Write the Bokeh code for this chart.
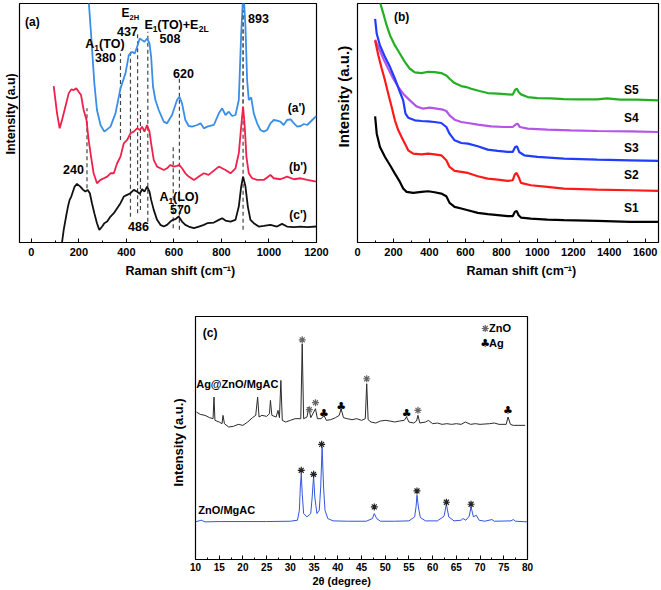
from bokeh.plotting import figure
from bokeh.models import Range1d, SingleIntervalTicker, Title, ColumnDataSource, Spacer
from bokeh.layouts import row, column
from bokeh.core.properties import value
from bokeh.embed import file_html
from bokeh.resources import INLINE

FONT = "Liberation Sans"

# ---------------- data: panel (a) Raman spectra (intensity in a.u.) ----------------
a1_x = [240, 251, 265, 276, 291, 307, 333, 354, 375, 396, 410, 424, 435, 445, 456, 466, 476, 487, 497, 504,
        512, 522, 536, 557, 571, 592, 613, 623, 634, 648, 662, 676, 698, 712, 726, 740, 768, 789, 803, 817,
        831, 845, 859, 873, 883, 890, 894, 901, 908, 915, 925, 936, 950, 964, 978, 992, 1006, 1020, 1034,
        1048, 1062, 1076, 1091, 1105, 1119, 1133, 1147, 1161, 1182, 1200]
a1_y = [740, 629, 479, 399, 354, 334, 349, 389, 464, 509, 564, 574, 569, 589, 614, 609, 604, 614, 599, 559,
        469, 429, 399, 364, 359, 384, 429, 439, 419, 369, 351, 349, 354, 359, 344, 349, 354, 389, 404, 384,
        394, 381, 384, 429, 629, 724, 740, 649, 489, 429, 437, 389, 359, 339, 334, 339, 359, 369, 367,
        364, 354, 369, 371, 359, 349, 351, 357, 354, 369, 381]

a2_x = [94, 108, 119, 129, 143, 157, 168, 178, 189, 199, 209, 220, 232, 241, 251, 262, 276, 291, 305, 319,
        333, 347, 361, 375, 389, 403, 417, 431, 445, 456, 466, 476, 487, 497, 504, 515, 529, 543, 557, 571,
        585, 599, 613, 623, 634, 648, 662, 684, 705, 726, 746, 768, 789, 803, 817, 838, 859, 873, 883, 891,
        898, 905, 915, 929, 950, 978, 1006, 1020, 1048, 1076, 1105, 1133, 1161, 1200]
a2_y = [471, 389, 344, 369, 409, 449, 461, 459, 464, 454, 444, 399, 369, 309, 259, 209, 179, 189, 194, 199,
        209, 209, 239, 259, 299, 309, 329, 334, 344, 339, 349, 334, 354, 334, 299, 249, 229, 224, 219, 224,
        234, 229, 231, 234, 224, 209, 199, 189, 199, 209, 204, 217, 229, 224, 219, 209, 224, 269, 349, 409,
        349, 259, 209, 194, 189, 189, 204, 194, 191, 199, 191, 194, 189, 184]

a3_x = [129, 136, 146, 154, 161, 168, 175, 182, 192, 206, 218, 227, 237, 246, 255, 265, 276, 286, 298, 307,
        319, 333, 347, 361, 375, 389, 403, 417, 431, 445, 456, 466, 476, 487, 497, 504, 515, 529, 543, 557,
        571, 585, 596, 606, 620, 634, 648, 662, 684, 705, 726, 740, 768, 789, 803, 817, 838, 859, 873, 883,
        891, 901, 911, 922, 936, 957, 978, 1006, 1034, 1055, 1076, 1105, 1133, 1161, 1200]
a3_y = [1, 39, 79, 109, 129, 139, 154, 169, 177, 169, 159, 154, 159, 149, 119, 89, 59, 39, 49, 59,
        64, 79, 89, 104, 119, 139, 144, 149, 159, 154, 147, 161, 154, 169, 154, 129, 99, 69, 54, 49,
        54, 64, 69, 71, 79, 64, 54, 49, 44, 49, 54, 59, 61, 69, 74, 67, 64, 69, 109, 169,
        199, 169, 109, 69, 59, 49, 51, 54, 49, 57, 49, 47, 49, 47, 49]

# band markers (Raman shift, lower and upper intensity of dashed guide)
band_x = [234, 375, 417, 447, 459, 490, 597, 623, 891]
band_lo = [164, 309, 78, 89, 99, 63, 44, 39, 39]
band_hi = [404, 569, 584, 629, 399, 634, 289, 494, 699]

# ---------------- data: panel (b) ----------------
s5_x = [125, 144, 162, 181, 208, 236, 264, 291, 319, 356, 393, 429, 466, 494, 512, 540, 577, 605, 632, 678,
        724, 780, 835, 863, 877, 887, 896, 909, 946, 1001, 1075, 1148, 1241, 1333, 1388, 1462, 1554, 1674]
s5_y = [722, 687, 652, 622, 592, 567, 542, 522, 511, 509, 513, 512, 509, 502, 492, 479, 470, 467, 462, 455,
        449, 447, 445, 444, 459, 462, 452, 445, 437, 434, 433, 431, 430, 430, 433, 429, 429, 427]
s4_x = [98, 116, 144, 171, 199, 227, 254, 291, 328, 365, 402, 439, 476, 494, 512, 540, 577, 614, 669, 743,
        817, 863, 881, 890, 903, 946, 1056, 1185, 1333, 1517, 1674]
s4_y = [609, 587, 552, 522, 492, 467, 447, 427, 409, 402, 405, 402, 399, 395, 382, 369, 362, 359, 354, 349,
        347, 347, 355, 357, 347, 342, 339, 337, 335, 334, 332]
s3_x = [98, 107, 125, 153, 181, 208, 236, 254, 267, 282, 319, 356, 393, 429, 466, 494, 512, 540, 577, 614,
        669, 724, 780, 835, 863, 877, 887, 899, 927, 1001, 1148, 1333, 1517, 1674]
s3_y = [672, 627, 592, 557, 527, 492, 452, 427, 387, 375, 367, 365, 364, 362, 359, 347, 327, 307, 299, 297,
        289, 279, 275, 272, 272, 287, 289, 272, 262, 257, 252, 249, 247, 245]
s2_x = [98, 116, 135, 153, 171, 190, 208, 227, 245, 264, 282, 310, 356, 393, 429, 466, 494, 512, 540, 577,
        614, 669, 724, 780, 835, 863, 875, 885, 896, 909, 964, 1056, 1148, 1333, 1517, 1674]
s2_y = [607, 562, 522, 487, 447, 407, 367, 337, 317, 297, 277, 267, 265, 267, 265, 262, 247, 227, 215, 212,
        209, 199, 192, 189, 185, 187, 205, 209, 197, 179, 172, 167, 162, 159, 157, 155]
s1_x = [98, 107, 125, 153, 181, 208, 236, 254, 273, 310, 356, 393, 429, 466, 494, 512, 540, 577, 614, 669,
        724, 780, 835, 863, 875, 885, 896, 909, 964, 1056, 1148, 1333, 1517, 1674]
s1_y = [379, 327, 287, 257, 232, 207, 182, 162, 152, 149, 152, 154, 151, 147, 139, 119, 107, 102, 97, 89,
        85, 82, 79, 79, 92, 95, 82, 75, 72, 69, 67, 65, 62, 62]
b_names = ["S1", "S2", "S3", "S4", "S5"]

# ---------------- data: panel (c) XRD ----------------
ag_x = [10.2, 11, 12, 13, 13.7, 13.9, 14.1, 15, 15.6, 15.8, 16.1, 17, 18, 19, 20, 21, 22, 22.7, 23.1, 23.4,
        24, 25, 25.6, 25.8, 26.1, 27, 27.4, 27.7, 28.0, 28.3, 29, 30, 31, 32.2, 32.5, 32.8, 33.5, 33.9, 34.3,
        35.3, 35.7, 36.5, 37.1, 37.6, 38.5, 39.5, 40.3, 40.7, 41.2, 42, 43, 44, 45, 45.8, 46.1, 46.4, 47, 48,
        49, 50, 51, 52, 53, 54, 54.5, 55, 56, 56.6, 56.9, 57.3, 58.5, 59.1, 60, 61, 62, 63, 64, 65, 66, 66.9,
        68, 69, 70, 72, 73, 74, 75.5, 75.9, 76.4, 77, 78, 79.5]
ag_y = [443, 436, 433, 426, 423, 488, 418, 413, 408, 433, 408, 398, 400, 406, 403, 413, 426, 433, 488, 428,
        433, 430, 438, 478, 433, 428, 448, 426, 538, 418, 413, 418, 423, 423, 648, 423, 428, 458, 426,
        453, 423, 423, 433, 418, 420, 426, 433, 453, 426, 423, 420, 423, 418, 423, 528, 420, 413, 410,
        416, 418, 416, 413, 416, 418, 428, 413, 410, 416, 433, 410, 413, 418, 408, 410, 406, 408, 406, 408, 406, 413,
        406, 408, 406, 408, 410, 406, 406, 428, 406, 403, 403, 403]
zn_x = [10, 11.2, 12, 15, 20, 25, 30, 31.5, 31.9, 32.1, 32.3, 32.5, 32.8, 33.5, 34.3, 34.6, 34.9, 35.15, 35.6,
        36.1, 36.4, 36.7, 37.0, 37.3, 37.9, 39, 42, 46, 47.3, 47.7, 48.2, 49, 52, 55, 56.2, 56.5, 56.7, 57.0,
        57.4, 58.5, 61, 62.4, 62.9, 63.4, 64.5, 66, 66.4, 67, 67.7, 68.1, 68.6, 69.2, 69.8, 71, 72.5, 73,
        76.5, 77, 77.5, 80]
zn_y = [113, 118, 113, 114, 114, 114, 115, 118, 148, 218, 258, 198, 138, 128, 138, 188, 251, 188, 138,
        148, 218, 338, 218, 148, 123, 116, 115, 115, 123, 138, 123, 115, 115, 116, 128, 158, 193, 158,
        126, 116, 116, 130, 166, 128, 116, 118, 123, 118, 130, 158, 128, 133, 118, 115, 120, 115,
        116, 120, 115, 113]
zno_star_top_x = [32.5, 34.0, 35.3, 46.1, 56.9]
zno_star_top_y = [660, 450, 471, 543, 448]
ag_club_x = [37.1, 40.7, 54.5, 75.9]
ag_club_y = [438, 460, 440, 448]
zno_star_bot_x = [32.3, 34.9, 36.6, 47.7, 56.7, 62.9, 68.1]
zno_star_bot_y = [268, 256, 346, 158, 206, 172, 166]


def make_fig(w, h, xr, yr, bl, br, bt, bb, interval, tick_px, standoff):
    p = figure(width=w, height=h, x_range=Range1d(*xr), y_range=Range1d(*yr),
               output_backend="svg", toolbar_location=None,
               min_border_left=bl, min_border_right=br, min_border_top=bt, min_border_bottom=bb)
    p.grid.visible = False
    p.yaxis.visible = False
    p.xaxis.ticker = SingleIntervalTicker(interval=interval, num_minor_ticks=2)
    ax = p.xaxis[0]
    ax.axis_line_color = None
    ax.major_tick_in = 4
    ax.major_tick_out = 0
    ax.minor_tick_in = 2
    ax.minor_tick_out = 0
    ax.major_tick_line_color = "black"
    ax.minor_tick_line_color = "black"
    ax.major_label_text_font = FONT
    ax.major_label_text_font_style = "bold"
    ax.major_label_text_font_size = tick_px
    ax.major_label_text_color = "black"
    ax.major_label_standoff = standoff
    p.outline_line_color = "black"
    p.outline_line_width = 1.2
    p.outline_line_alpha = 1
    p.background_fill_color = "white"
    p.border_fill_color = "white"
    return p


def add_texts(p, specs):
    for align in ("left", "center"):
        sel = [s for s in specs if s[4] == align]
        if not sel:
            continue
        src = ColumnDataSource(dict(t=[s[0] for s in sel], x=[s[1] for s in sel], y=[s[2] for s in sel],
                                    fs=[s[3] for s in sel]))
        p.text(x="x", y="y", text="t", source=src, text_font=value(FONT), text_font_style="bold",
               text_font_size="fs", text_align=align, text_baseline="middle", text_color="black")


def add_title(p, text, side, offset, size, standoff, valign):
    p.add_layout(Title(text=text, align="left", offset=offset, standoff=standoff, vertical_align=valign,
                       text_font=FONT, text_font_style="bold", text_font_size=size, text_color="black"), side)


# ---------------- panel (a) ----------------
pa = make_fig(330, 300, (-50, 1200), (1, 719), 19, 14, 3, 57, 200, "11px", 5)
pa.segment(x0=band_x, y0=band_lo, x1=band_x, y1=band_hi, line_color="#444444", line_width=1.2, line_dash="4 3")
pa.line(a1_x, a1_y, line_color="#3a8ee8", line_width=1.8)
pa.line(a2_x, a2_y, line_color="#f0204a", line_width=1.8)
pa.line(a3_x, a3_y, line_color="#111111", line_width=1.8)
pa.segment(x0=[891], y0=[420], x1=[891], y1=[699], line_color="#555555", line_width=1.2, line_dash="4 3")
add_texts(pa, [
    ("(a)", 4, 663, "12px", "center"),
    ("E", 379, 690, "12px", "left"), ("2H", 413, 678, "7.5px", "left"),
    ("437", 404, 636, "12.5px", "center"),
    ("A", 227, 597, "12.5px", "left"), ("1", 265, 585, "8.5px", "left"), ("(TO)", 285, 597, "12.5px", "left"),
    ("380", 312, 556, "12.5px", "center"),
    ("E", 476, 654, "12.5px", "left"), ("1", 511, 642, "8.5px", "left"), ("(TO)+E", 530, 654, "12.5px", "left"),
    ("2L", 704, 642, "8.5px", "left"),
    ("508", 583, 615, "12.5px", "center"),
    ("620", 640, 510, "12.5px", "center"),
    ("893", 956, 675, "12.5px", "center"),
    ("(a')", 1116, 405, "12px", "center"),
    ("(b')", 1122, 228, "12px", "center"),
    ("(c')", 1122, 84, "12px", "center"),
    ("240", 177, 219, "12.5px", "center"),
    ("A", 539, 138, "12.5px", "left"), ("1", 577, 126, "8.5px", "left"), ("(LO)", 596, 138, "12.5px", "left"),
    ("570", 627, 99, "12.5px", "center"),
    ("486", 451, 48, "12.5px", "center"),
])
add_title(pa, "Raman shift (cm\u207b\u00b9)", "below", 106, "12.5px", 10, "top")
add_title(pa, "Intensity (a.u)", "left", 88, "12.5px", 0, "top")

# ---------------- panel (b) ----------------
pb = make_fig(331, 300, (0, 1674), (0, 718), 26, 3, 3, 58, 200, "11px", 5)
for xs, ys, c in [(s5_x, s5_y, "#22b022"), (s4_x, s4_y, "#b455e8"), (s3_x, s3_y, "#1f3cff"),
                  (s2_x, s2_y, "#ff1a1a"), (s1_x, s1_y, "#000000")]:
    pb.line(xs, ys, line_color=c, line_width=2.2)
add_texts(pb, [
    ("(b)", 245, 676, "12px", "center"),
    (b_names[4], 1523, 457, "12px", "center"),
    (b_names[3], 1523, 373, "12px", "center"),
    (b_names[2], 1523, 283, "12px", "center"),
    (b_names[1], 1523, 202, "12px", "center"),
    (b_names[0], 1523, 103, "12px", "center"),
])
add_title(pb, "Raman shift (cm\u207b\u00b9)", "below", 109, "12.5px", 10, "top")
add_title(pb, "Intensity (a.u.)", "left", 95, "15px", 8, "top")

# ---------------- panel (c) ----------------
pc = make_fig(400, 290, (10, 80), (0, 730), 45, 23, 16, 31, 5, "10px", 3)
pc.line(ag_x, ag_y, line_color="#2b2b2b", line_width=1)
pc.line(zn_x, zn_y, line_color="#3355dd", line_width=1)
pc.scatter(zno_star_top_x, zno_star_top_y, marker="asterisk", size=7, line_color="#666666", line_width=1.2)
pc.scatter(zno_star_bot_x, zno_star_bot_y, marker="asterisk", size=7, line_color="#222222", line_width=1.2)
pc.scatter([71.1], [694], marker="asterisk", size=7, line_color="#666666", line_width=1.2)
club_src = ColumnDataSource(dict(x=ag_club_x + [71.1], y=ag_club_y + [649], t=["\u2663"] * (len(ag_club_x) + 1)))
pc.text(x="x", y="y", text="t", source=club_src, text_font=value("DejaVu Sans"), text_font_size="11px",
        text_align="center", text_baseline="middle", text_color="black")
add_texts(pc, [
    ("(c)", 13.1, 679, "12px", "center"),
    ("Ag@ZnO/MgAC", 10.15, 528, "11px", "left"),
    ("ZnO/MgAC", 10.6, 148, "11px", "left"),
    ("ZnO", 71.9, 694, "11px", "left"),
    ("Ag", 71.9, 649, "11px", "left"),
])
add_title(pc, "2\u03b8 (degree)", "below", 117, "11px", 2, "top")
add_title(pc, "Intensity (a.u.)", "left", 73, "13px", 20, "bottom")

layout = column(row(pa, pb), row(Spacer(width=150, height=290), pc))
open("out.html", "w").write(file_html(layout, INLINE))
